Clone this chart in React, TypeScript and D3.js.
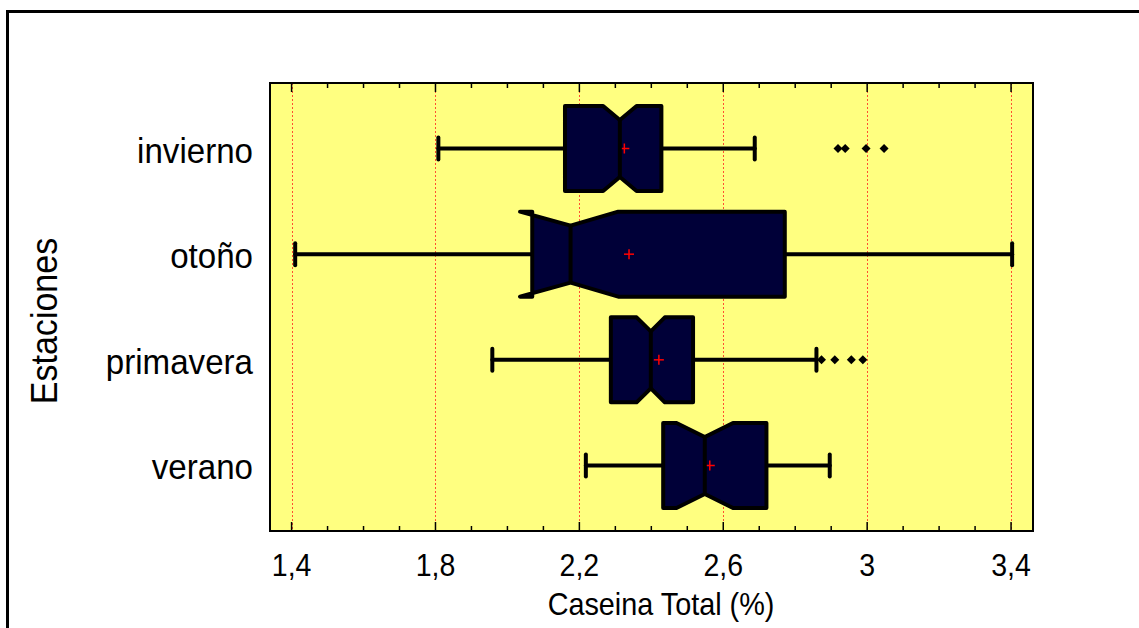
import React from 'react';
import * as d3 from 'd3';

// seasons, top to bottom
const categories = ['invierno', 'otoño', 'primavera', 'verano'];
const whiskerLow = [1.808, 1.41, 1.958, 2.218];
const q1 = [2.16, 2.069, 2.2875, 2.433];
const median = [2.3125, 2.1755, 2.3986, 2.5486];
const q3 = [2.428, 2.771, 2.516, 2.72];
const whiskerHigh = [2.6875, 3.403, 2.859, 2.896];
const notchLow = [2.266, 2.035, 2.359, 2.47];
const notchHigh = [2.359, 2.308, 2.4375, 2.627];
const means = [2.325, 2.338, 2.421, 2.5625];
const outliers = [
  [2.919, 2.939, 2.997, 3.047],
  [],
  [2.873, 2.91, 2.956, 2.988],
  [],
];

const tickValues = [1.4, 1.8, 2.2, 2.6, 3.0, 3.4];
const tickLabels = ['1,4', '1,8', '2,2', '2,6', '3', '3,4'];

const W = 1139;
const H = 628;
const plot = { left: 270, top: 83, right: 1033, bottom: 531 };
const FONT = '"Liberation Sans", Arial, sans-serif';

const App: React.FC = () => {
  const x = d3.scaleLinear().domain([1.34, 3.461]).range([plot.left, plot.right]);
  const y = d3
    .scalePoint<string>()
    .domain(categories)
    .range([plot.top, plot.bottom])
    .padding(0.62);

  const minorTicks = d3.range(14, 35).map((d) => d / 10).filter((d) => !tickValues.some((t) => Math.abs(t - d) < 1e-6));
  const half = 42.5;
  const indent = half * 0.33;
  const line = d3.line<[number, number]>();

  const diamond = (cx: number, cy: number, r: number) =>
    line([
      [cx - r, cy],
      [cx, cy - r],
      [cx + r, cy],
      [cx, cy + r],
      [cx - r, cy],
    ]) || '';

  return (
    <svg width={W} height={H} style={{ position: 'absolute', left: 0, top: 0, background: '#fff' }}>
      {/* outer frame, runs off the right and bottom */}
      <rect x={7.5} y={11.5} width={1300} height={800} fill="none" stroke="#000" strokeWidth={3} />

      {/* plot background */}
      <rect
        x={plot.left}
        y={plot.top}
        width={plot.right - plot.left}
        height={plot.bottom - plot.top}
        fill="#ffff80"
      />

      {/* grid lines */}
      {tickValues.map((t) => (
        <line
          key={'g' + t}
          x1={Math.round(x(t)) + 0.5}
          x2={Math.round(x(t)) + 0.5}
          y1={plot.top}
          y2={plot.bottom}
          stroke="#ff5030"
          strokeWidth={1}
          strokeDasharray="2,2"
        />
      ))}

      {/* ticks top and bottom, inward */}
      {tickValues.map((t) => (
        <g key={'t' + t} stroke="#000" strokeWidth={1.5}>
          <line x1={x(t)} x2={x(t)} y1={plot.bottom} y2={plot.bottom - 9} />
          <line x1={x(t)} x2={x(t)} y1={plot.top} y2={plot.top + 9} />
        </g>
      ))}
      {minorTicks.map((t) => (
        <g key={'m' + t} stroke="#000" strokeWidth={1.5}>
          <line x1={x(t)} x2={x(t)} y1={plot.bottom} y2={plot.bottom - 5} />
          <line x1={x(t)} x2={x(t)} y1={plot.top} y2={plot.top + 5} />
        </g>
      ))}

      {/* boxes */}
      {categories.map((c, i) => {
        const cy = y(c) as number;
        const top = cy - half;
        const bot = cy + half;
        const pts: [number, number][] = [
          [x(q1[i]), top],
          [x(notchLow[i]), top],
          [x(median[i]), top + indent],
          [x(notchHigh[i]), top],
          [x(q3[i]), top],
          [x(q3[i]), bot],
          [x(notchHigh[i]), bot],
          [x(median[i]), bot - indent],
          [x(notchLow[i]), bot],
          [x(q1[i]), bot],
        ];
        const mx = x(means[i]);
        return (
          <g key={c}>
            <g stroke="#000" strokeWidth={4} strokeLinecap="round">
              <line x1={x(whiskerLow[i])} x2={x(q1[i])} y1={cy} y2={cy} />
              <line x1={x(q3[i])} x2={x(whiskerHigh[i])} y1={cy} y2={cy} />
              <line x1={x(whiskerLow[i])} x2={x(whiskerLow[i])} y1={cy - 11} y2={cy + 11} />
              <line x1={x(whiskerHigh[i])} x2={x(whiskerHigh[i])} y1={cy - 11} y2={cy + 11} />
            </g>
            <path
              d={(line(pts) || '') + 'Z'}
              fill="#000038"
              stroke="#000"
              strokeWidth={4}
              strokeLinejoin="round"
            />
            <g stroke="#ff0000" strokeWidth={1.5}>
              <line x1={mx - 5} x2={mx + 5} y1={cy} y2={cy} />
              <line x1={mx} x2={mx} y1={cy - 5} y2={cy + 5} />
            </g>
            <line
              x1={x(median[i])}
              x2={x(median[i])}
              y1={top + indent}
              y2={bot - indent}
              stroke="#000"
              strokeWidth={4}
            />
            {outliers[i].map((o, j) => (
              <path key={j} d={diamond(x(o), cy, 4.5)} fill="#000" />
            ))}
          </g>
        );
      })}

      {/* plot border */}
      <rect
        x={plot.left}
        y={plot.top}
        width={plot.right - plot.left}
        height={plot.bottom - plot.top}
        fill="none"
        stroke="#000"
        strokeWidth={2}
      />

      {/* category labels */}
      {categories.map((c) => (
        <text
          key={'l' + c}
          transform={`translate(253,${(y(c) as number) + 14}) scale(0.92,1)`}
          textAnchor="end"
          fontFamily={FONT}
          fontSize={36}
          fill="#000"
        >
          {c}
        </text>
      ))}

      {/* x tick labels */}
      {tickValues.map((t, i) => (
        <text
          key={'xl' + t}
          transform={`translate(${x(t)},576) scale(0.92,1)`}
          textAnchor="middle"
          fontFamily={FONT}
          fontSize={31}
          fill="#000"
        >
          {tickLabels[i]}
        </text>
      ))}

      {/* axis titles */}
      <text
        transform="translate(661,615) scale(0.9,1)"
        textAnchor="middle"
        fontFamily={FONT}
        fontSize={32}
        fill="#000"
      >
        Caseina Total (%)
      </text>
      <text
        transform="translate(57,321) rotate(-90) scale(0.92,1)"
        textAnchor="middle"
        fontFamily={FONT}
        fontSize={37}
        fill="#000"
      >
        Estaciones
      </text>
    </svg>
  );
};

export default App;
